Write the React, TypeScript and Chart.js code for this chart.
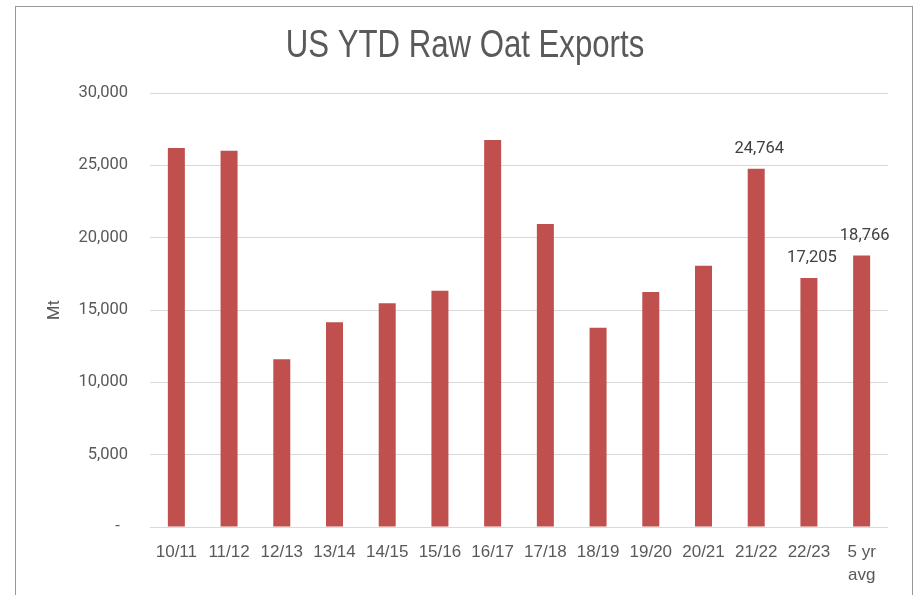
import React, { useEffect, useRef } from "react";
import { Chart, registerables } from "chart.js";

Chart.register(...registerables);

const categories: (string | string[])[] = [
  "10/11", "11/12", "12/13", "13/14", "14/15", "15/16", "16/17",
  "17/18", "18/19", "19/20", "20/21", "21/22", "22/23", ["5 yr", "avg"],
];
const exportsMt: number[] = [
  26200, 26000, 11600, 14160, 15470, 16330, 26750,
  20940, 13770, 16240, 18055, 24764, 17205, 18766,
];
const labelledBars: boolean[] = [
  false, false, false, false, false, false, false,
  false, false, false, false, true, true, true,
];
const yTicks: number[] = [0, 5000, 10000, 15000, 20000, 25000, 30000];

const TITLE = "US YTD Raw Oat Exports";
const Y_TITLE = "Mt";
const BAR_COLOR = "#C0504D";
const SANS = "'Liberation Sans', Arial, sans-serif";

const titlePlugin = {
  id: "narrowTitle",
  afterDraw(chart: any) {
    const ctx = chart.ctx;
    ctx.save();
    ctx.translate(465, 47);
    ctx.scale(0.82, 1);
    ctx.font = `38px ${SANS}`;
    ctx.fillStyle = "#595959";
    ctx.textAlign = "center";
    ctx.textBaseline = "middle";
    ctx.fillText(TITLE, 0, 0);
    ctx.restore();
  },
};

const valueLabelPlugin = {
  id: "valueLabels",
  afterDatasetsDraw(chart: any) {
    const ctx = chart.ctx;
    const meta = chart.getDatasetMeta(0);
    ctx.save();
    ctx.font = "16.5px Roboto";
    ctx.fillStyle = "#404040";
    ctx.textAlign = "center";
    ctx.textBaseline = "middle";
    meta.data.forEach((bar: any, i: number) => {
      if (!labelledBars[i]) return;
      ctx.fillText(exportsMt[i].toLocaleString("en-US"), bar.x + 3, bar.y - 20);
    });
    ctx.restore();
  },
};

export default function App() {
  const ref = useRef<HTMLCanvasElement | null>(null);

  useEffect(() => {
    if (!ref.current) return;
    const chart = new Chart(ref.current, {
      type: "bar",
      data: {
        labels: categories,
        datasets: [
          {
            data: exportsMt,
            backgroundColor: BAR_COLOR,
            borderWidth: 0,
            barPercentage: 0.3225,
            categoryPercentage: 1,
          },
        ],
      },
      options: {
        responsive: false,
        animation: false,
        layout: { padding: { left: 35, right: 28, top: 93, bottom: 10 } },
        plugins: {
          legend: { display: false },
          tooltip: { enabled: false },
          title: { display: false },
        },
        scales: {
          x: {
            grid: { display: false },
            border: { display: false },
            afterFit: (scale: any) => {
              scale.height = 58;
            },
            ticks: {
              color: "#595959",
              font: { family: SANS, size: 17, lineHeight: 1.35 },
              padding: 6,
              maxRotation: 0,
              autoSkip: false,
            },
          },
          y: {
            min: 0,
            max: 30000,
            afterBuildTicks: (scale: any) => {
              scale.ticks = yTicks.map((v) => ({ value: v }));
            },
            afterFit: (scale: any) => {
              scale.width = 115;
            },
            grid: { color: "#d9d9d9", lineWidth: 1, drawTicks: false },
            border: { display: false },
            ticks: {
              color: "#595959",
              font: { family: "Roboto", size: 16.5 },
              padding: 22,
              callback: (v: any) => (Number(v) === 0 ? "-  " : Number(v).toLocaleString("en-US")),
            },
            title: {
              display: true,
              text: Y_TITLE,
              color: "#595959",
              font: { family: "Roboto", size: 16.5 },
              padding: { top: 10, bottom: 0 },
            },
          },
        },
      },
      plugins: [valueLabelPlugin, titlePlugin],
    });
    return () => chart.destroy();
  }, []);

  return (
    <div style={{ position: "fixed", left: 0, top: 0, width: 916, height: 595, overflow: "hidden", background: "#fff" }}>
      <div
        style={{
          position: "absolute",
          left: 15,
          top: 6,
          width: 896,
          height: 700,
          border: "1px solid #999",
        }}
      />
      <canvas ref={ref} width={916} height={595} style={{ position: "absolute", left: 0, top: 0 }} />
    </div>
  );
}
